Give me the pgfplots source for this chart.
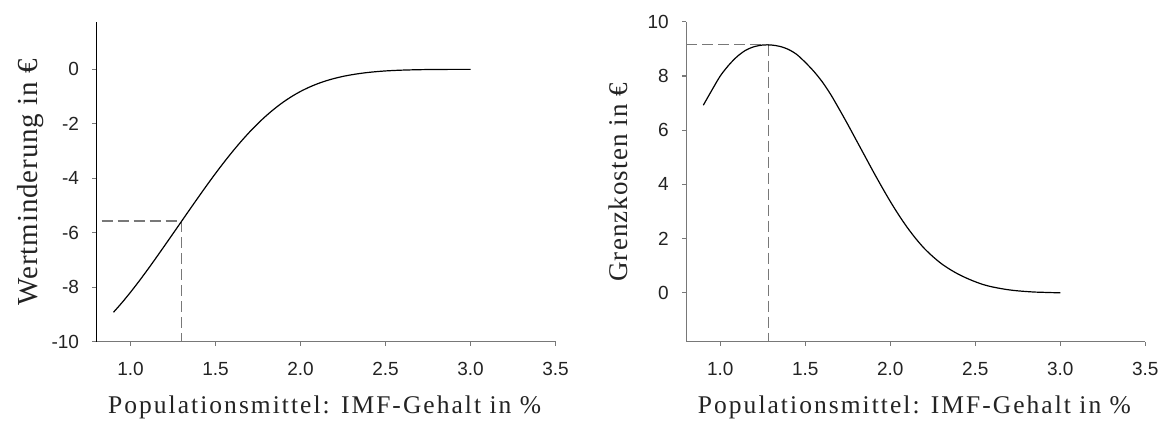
\documentclass[border=0pt]{standalone}
\usepackage{fontspec}
\setmainfont{Liberation Serif}
\setsansfont{Liberation Sans}
\usepackage{pgfplots}
\pgfplotsset{compat=1.18}
\usepackage{pgfplotstable}
\definecolor{axgray}{RGB}{120,120,120}
\definecolor{dashgray}{RGB}{120,120,120}
\definecolor{txt}{RGB}{35,35,35}

\pgfplotstableread{
x y
0.90 -8.919
0.95 -8.565
1.00 -8.184
1.05 -7.781
1.10 -7.360
1.15 -6.924
1.20 -6.480
1.25 -6.032
1.30 -5.582
1.35 -5.132
1.40 -4.687
1.45 -4.248
1.50 -3.822
1.55 -3.412
1.60 -3.020
1.65 -2.650
1.70 -2.304
1.75 -1.985
1.80 -1.694
1.85 -1.431
1.90 -1.196
1.95 -0.990
2.00 -0.811
2.05 -0.659
2.10 -0.529
2.15 -0.421
2.20 -0.332
2.25 -0.258
2.30 -0.199
2.35 -0.151
2.40 -0.112
2.45 -0.082
2.50 -0.058
2.55 -0.041
2.60 -0.028
2.65 -0.019
2.70 -0.012
2.75 -0.007
2.80 -0.004
2.85 -0.002
2.90 -0.001
2.95 -0.0004
3.00 0.0
}\leftdata

\pgfplotstableread{
x y
0.90 6.92
0.95 7.47
1.00 8.00
1.05 8.40
1.10 8.72
1.15 8.95
1.20 9.08
1.25 9.14
1.30 9.14
1.35 9.09
1.40 8.98
1.45 8.79
1.50 8.50
1.55 8.17
1.60 7.78
1.65 7.31
1.70 6.77
1.75 6.21
1.80 5.63
1.85 5.05
1.90 4.47
1.95 3.91
2.00 3.37
2.05 2.87
2.10 2.41
2.15 2.00
2.20 1.64
2.25 1.34
2.30 1.08
2.35 0.87
2.40 0.69
2.45 0.54
2.50 0.41
2.55 0.30
2.60 0.22
2.65 0.16
2.70 0.11
2.75 0.075
2.80 0.05
2.85 0.03
2.90 0.02
2.95 0.01
3.00 0.005
}\rightdata

\pgfplotsset{
  myaxis/.style={
    scale only axis, width=459pt, height=320pt,
    xmin=0.8, xmax=3.5,
    axis x line*=bottom, axis y line*=left,
    xtick={1.0,1.5,2.0,2.5,3.0,3.5},
    xticklabel style={/pgf/number format/.cd, fixed, fixed zerofill, precision=1, /tikz/.cd, yshift=-13pt},
    yticklabel style={xshift=-10pt},
    /pgf/number format/assume math mode=true,
    tick align=outside, major tick length=4pt,
    ticklabel style={font=\sffamily\fontsize{19}{19}\selectfont, text=txt},
    every tick/.style={axgray, line width=1.2pt},
    x axis line style={axgray, line width=1.4pt},
    y axis line style={axgray, line width=1.4pt},
    xlabel style={at={(axis description cs:0.497,-0.223)}, anchor=base,
      font=\rmfamily\fontsize{25.5}{26}\selectfont\addfontfeature{LetterSpace=8}, text=txt},
    ylabel style={at={(axis description cs:-0.129,0.498)}, anchor=base, rotate=0,
      text=txt},
    clip=false,
  }
}

\begin{document}
\begin{tikzpicture}
\useasboundingbox (0,0) rectangle (1160pt,423pt);
\begin{axis}[myaxis, at={(96.5pt,81.3pt)}, anchor=south west,
  ymin=-10, ymax=1.75, ytick={-10,-8,-6,-4,-2,0},
  y axis line style={black, line width=1.4pt},
  xlabel={Populationsmittel: IMF-Gehalt in \%},
  ylabel={Wertminderung in €},
  ylabel style={font=\rmfamily\fontsize{29}{29}\selectfont\addfontfeature{LetterSpace=3}},
]
\addplot[dashgray, line width=1.3pt, dash pattern=on 11pt off 5pt] coordinates {(0.83,-5.57) (1.3,-5.57)};
\addplot[dashgray, line width=1.3pt, dash pattern=on 11pt off 5pt] coordinates {(1.3,-5.57) (1.3,-10)};
\addplot[black, line width=1.2pt, smooth] table[x=x, y=y] {\leftdata};
\end{axis}
\begin{axis}[myaxis, at={(686.3pt,81.3pt)}, anchor=south west,
  ymin=-1.8, ymax=10, ytick={0,2,4,6,8,10},
  xlabel={Populationsmittel: IMF-Gehalt in \%},
  ylabel={Grenzkosten in €},
  ylabel style={font=\rmfamily\fontsize{27}{27}\selectfont\addfontfeature{LetterSpace=4}},
]
\addplot[dashgray, line width=1.3pt, dash pattern=on 11pt off 5pt] coordinates {(0.8,9.15) (1.285,9.15)};
\addplot[dashgray, line width=1.3pt, dash pattern=on 11pt off 5pt] coordinates {(1.285,9.15) (1.285,-1.8)};
\addplot[black, line width=1.2pt, smooth] table[x=x, y=y] {\rightdata};
\end{axis}
\end{tikzpicture}
\end{document}
